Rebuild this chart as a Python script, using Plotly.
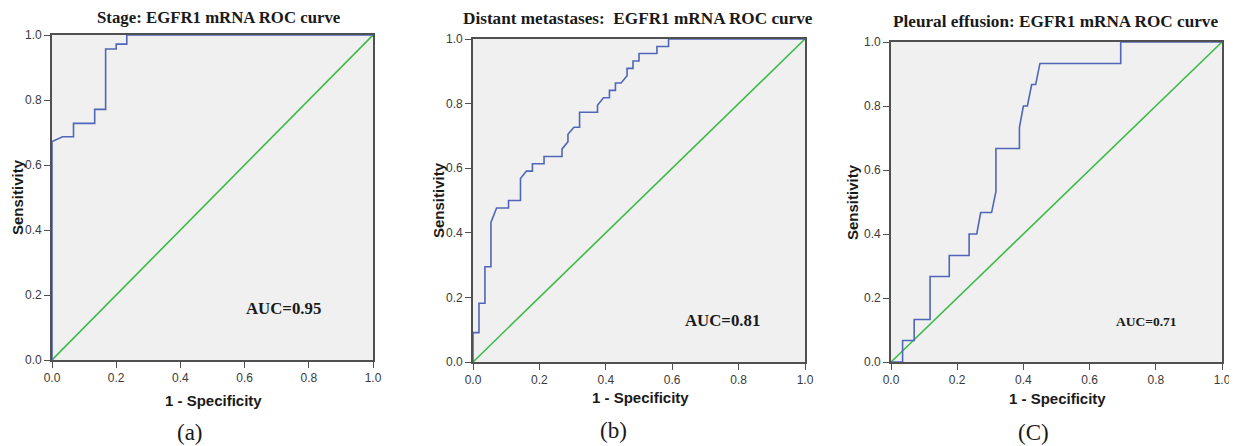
import plotly.graph_objects as go

# Panel (a): Stage
fpr_a = [0, 0, 0.033, 0.067, 0.067, 0.133, 0.133, 0.167, 0.167, 0.200, 0.200, 0.233, 0.233, 1.0]
sens_a = [0, 0.672, 0.687, 0.687, 0.728, 0.728, 0.771, 0.771, 0.957, 0.957, 0.972, 0.972, 1.0, 1.0]

# Panel (b): Distant metastases
fpr_b = [0, 0, 0.018, 0.018, 0.036, 0.036, 0.054, 0.054, 0.071, 0.107, 0.107, 0.143, 0.143, 0.161,
         0.179, 0.179, 0.214, 0.214, 0.268, 0.268, 0.286, 0.286, 0.304, 0.321, 0.321, 0.375, 0.375,
         0.393, 0.411, 0.411, 0.429, 0.429, 0.446, 0.464, 0.464, 0.482, 0.482, 0.500, 0.500, 0.554,
         0.554, 0.589, 0.589, 1.0]
sens_b = [0, 0.091, 0.091, 0.182, 0.182, 0.295, 0.295, 0.432, 0.477, 0.477, 0.500, 0.500, 0.568, 0.591,
          0.591, 0.614, 0.614, 0.636, 0.636, 0.659, 0.682, 0.705, 0.727, 0.727, 0.773, 0.773, 0.795,
          0.818, 0.818, 0.841, 0.841, 0.864, 0.864, 0.886, 0.909, 0.909, 0.932, 0.932, 0.955, 0.955,
          0.977, 0.977, 1.0, 1.0]

# Panel (C): Pleural effusion
fpr_c = [0, 0.035, 0.035, 0.070, 0.070, 0.118, 0.118, 0.176, 0.176, 0.236, 0.236, 0.259, 0.271,
         0.304, 0.317, 0.317, 0.388, 0.388, 0.400, 0.412, 0.425, 0.437, 0.450, 0.694, 0.694, 1.0]
sens_c = [0, 0, 0.067, 0.067, 0.133, 0.133, 0.267, 0.267, 0.333, 0.333, 0.400, 0.400, 0.467,
          0.467, 0.533, 0.667, 0.667, 0.733, 0.800, 0.800, 0.867, 0.867, 0.933, 0.933, 1.0, 1.0]

ref_line = [0, 1]

titles = ["Stage: EGFR1 mRNA ROC curve",
          "Distant metastases:  EGFR1 mRNA ROC curve",
          "Pleural effusion: EGFR1 mRNA ROC curve"]
auc_labels = ["AUC=0.95", "AUC=0.81", "AUC=0.71"]
panel_tags = ["(a)", "(b)", "(C)"]
tick_vals = [0, 0.2, 0.4, 0.6, 0.8, 1.0]
tick_text = ["0.0", "0.2", "0.4", "0.6", "0.8", "1.0"]

W, H = 1237, 446
OFF = 8  # page body margin offset
# pixel boxes of plot areas in the screenshot: (left, right, top, bottom)
boxes = [(52, 373, 35, 360), (473, 805, 39, 362), (891, 1222, 42, 362)]
title_cx = [219, 638, 1055]
title_y = [18, 19, 22]
title_size = [16.8, 17.2, 17.2]
xlab = [(213, 400), (640, 397), (1057, 398)]
ylab = [(17, 197), (438, 200), (853, 202)]
tag_pos = [(190, 432), (613, 430), (1033, 432)]

curves = [(fpr_a, sens_a), (fpr_b, sens_b), (fpr_c, sens_c)]
auc_pos = [(0.72, 0.16, 16.8), (0.75, 0.127, 16.8), (0.773, 0.128, 13.5)]

BLUE = "#5066B8"
GREEN = "#3DBA4A"
AXC = "#505050"

fig = go.Figure()
layout = dict(width=W, height=H, margin=dict(l=0, r=0, t=0, b=0, autoexpand=False),
              paper_bgcolor="white", plot_bgcolor="#F0F0F0", showlegend=False)
annotations = []


def fx_(p):
    return (p - OFF) / W


def fy_(p):
    return 1 - (p - OFF) / H


def pann(text, px, py, size, family, angle=0):
    return dict(text=text, xref="paper", yref="paper", x=fx_(px), y=fy_(py),
                xanchor="center", yanchor="middle", showarrow=False, textangle=angle,
                font=dict(family=family, size=size, color="#1a1a1a"))


SERIF = "Liberation Serif, Times New Roman"
SANS = "Liberation Sans, Arial"

for i, ((fx, sy), (l, r, t, b)) in enumerate(zip(curves, boxes)):
    n = "" if i == 0 else str(i + 1)
    xa, ya = "x" + n, "y" + n
    fig.add_trace(go.Scatter(x=ref_line, y=ref_line, mode="lines", xaxis=xa, yaxis=ya,
                             line=dict(color=GREEN, width=1.6), hoverinfo="skip"))
    fig.add_trace(go.Scatter(x=fx, y=sy, mode="lines", xaxis=xa, yaxis=ya,
                             line=dict(color=BLUE, width=1.6)))
    axcommon = dict(range=[0, 1], tickvals=tick_vals, ticktext=tick_text, showgrid=False,
                    zeroline=False, showline=True, linecolor=AXC, linewidth=1.6, mirror=True,
                    ticks="outside", ticklen=6, tickwidth=1.4, tickcolor=AXC, automargin=False,
                    tickfont=dict(family=SANS, size=12, color="#3a3a3a"))
    layout["xaxis" + n] = dict(axcommon, domain=[fx_(l), fx_(r)], anchor=ya)
    layout["yaxis" + n] = dict(axcommon, domain=[fy_(b), fy_(t)], anchor=xa)
    annotations.append(pann("<b>" + titles[i] + "</b>", title_cx[i], title_y[i], title_size[i], SERIF))
    annotations.append(pann("<b>1 - Specificity</b>", xlab[i][0], xlab[i][1], 15, SANS))
    annotations.append(pann("<b>Sensitivity</b>", ylab[i][0], ylab[i][1], 15, SANS, -90))
    annotations.append(pann(panel_tags[i], tag_pos[i][0], tag_pos[i][1], 23, SERIF))
    ax_, ay_, fs = auc_pos[i]
    annotations.append(dict(text="<b>" + auc_labels[i] + "</b>", xref=xa, yref=ya,
                            x=ax_, y=ay_, xanchor="center", yanchor="middle", showarrow=False,
                            font=dict(family=SERIF, size=fs, color="#1a1a1a")))

layout["annotations"] = annotations
fig.update_layout(**layout)
fig.write_html("out.html")
